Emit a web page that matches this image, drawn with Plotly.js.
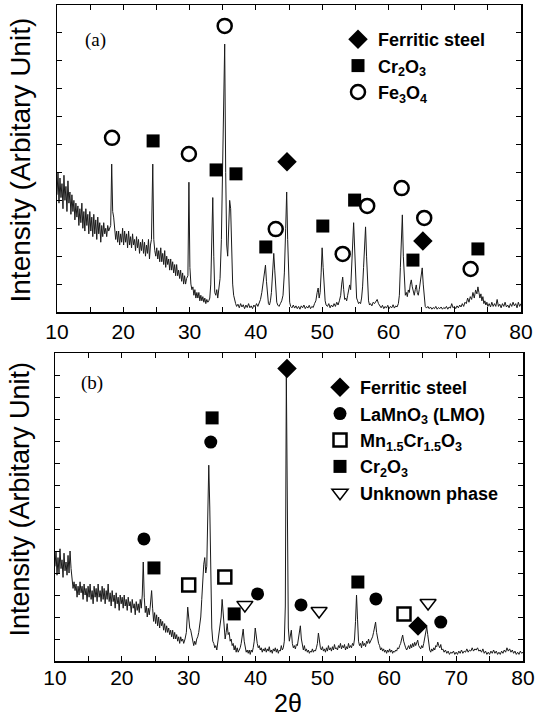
<!DOCTYPE html>
<html>
<head>
<meta charset="utf-8">
<script src="https://cdn.plot.ly/plotly-3.0.1.min.js"></script>
<style>html,body{margin:0;padding:0;background:#fff;}#chart{width:536px;height:725px;}</style>
</head>
<body>
<div id="chart"></div>
<script>
// ---------- Panel (a) scan: [2theta, intensity] ----------
const scanA = [
[10.0,4.2],[10.15,5.0],[10.3,3.9],[10.45,4.8],[10.6,4.1],[10.75,4.6],[10.9,3.7],[11.05,4.9],[11.2,4.0],[11.35,4.5],
[11.5,3.6],[11.65,4.7],[11.8,3.9],[11.95,4.3],[12.1,3.5],[12.25,4.2],[12.4,3.6],[12.55,4.0],[12.7,3.3],[12.85,3.9],
[13.0,3.4],[13.15,3.8],[13.3,3.1],[13.45,3.7],[13.6,3.2],[13.75,3.9],[13.9,3.0],[14.05,3.6],[14.2,2.9],[14.35,3.7],
[14.5,3.1],[14.65,3.5],[14.8,2.8],[14.95,3.6],[15.1,2.9],[15.25,3.4],[15.4,2.7],[15.55,3.5],[15.7,2.8],[15.85,3.3],
[16.0,2.6],[16.15,3.4],[16.3,2.8],[16.45,3.2],[16.6,2.5],[16.75,3.1],[16.9,2.7],[17.05,3.2],[17.2,2.8],[17.35,3.0],
[17.5,2.7],[17.65,3.1],[17.8,2.9],[17.95,3.0],[18.1,3.1],[18.25,5.3],[18.4,3.6],[18.55,3.4],[18.7,2.9],[18.85,2.6],
[19.0,2.9],[19.15,2.5],[19.3,2.9],[19.45,2.4],[19.6,2.8],[19.75,2.5],[19.9,3.0],[20.05,2.4],[20.2,2.9],[20.35,2.5],
[20.5,2.8],[20.65,2.3],[20.8,2.9],[20.95,2.4],[21.1,2.7],[21.25,2.3],[21.4,2.8],[21.55,2.4],[21.7,2.6],[21.85,2.2],
[22.0,2.7],[22.15,2.3],[22.3,2.6],[22.45,2.1],[22.6,2.5],[22.75,2.2],[22.9,2.6],[23.05,2.1],[23.2,2.5],[23.35,2.0],
[23.5,2.4],[23.65,2.1],[23.8,2.6],[23.95,1.9],[24.1,2.4],[24.25,2.6],[24.45,5.3],[24.6,2.6],[24.75,2.2],[24.9,2.0],
[25.05,2.3],[25.2,1.9],[25.35,2.2],[25.5,1.8],[25.65,2.3],[25.8,1.8],[25.95,2.1],[26.1,1.7],[26.25,2.2],[26.4,1.6],
[26.55,2.0],[26.7,1.7],[26.85,1.9],[27.0,1.5],[27.15,1.9],[27.3,1.5],[27.45,1.8],[27.6,1.4],[27.75,1.7],[27.9,1.3],
[28.05,1.7],[28.2,1.3],[28.35,1.5],[28.5,1.2],[28.65,1.5],[28.8,1.1],[28.95,1.4],[29.1,1.0],[29.25,1.3],[29.4,1.0],
[29.55,1.2],[29.75,1.3],[29.9,4.65],[30.05,1.6],[30.2,1.0],[30.35,0.8],[30.5,0.9],[30.65,0.6],[30.8,0.8],[30.95,0.5],
[31.1,0.7],[31.25,0.5],[31.4,0.7],[31.55,0.4],[31.7,0.6],[31.85,0.4],[32.0,0.55],[32.15,0.35],[32.3,0.5],[32.45,0.3],
[32.6,0.45],[32.75,0.35],[32.9,0.4],[33.05,0.5],[33.2,1.0],[33.35,2.3],[33.5,4.1],[33.65,2.0],[33.8,0.7],[33.95,0.6],
[34.1,0.8],[34.25,0.5],[34.4,0.9],[34.6,1.2],[34.8,2.6],[35.0,5.5],[35.15,8.0],[35.3,9.6],[35.45,5.0],[35.6,2.4],
[35.75,2.0],[35.9,2.8],[36.05,4.0],[36.2,3.7],[36.35,2.0],[36.5,1.0],[36.65,0.6],[36.8,0.4],[36.95,0.3],[37.1,0.2],
[37.3,0.28],[37.5,0.15],[37.7,0.3],[37.9,0.18],[38.1,0.26],[38.3,0.12],[38.5,0.25],[38.7,0.16],[38.9,0.3],[39.1,0.15],
[39.3,0.22],[39.5,0.12],[39.7,0.25],[39.9,0.18],[40.1,0.3],[40.3,0.2],[40.5,0.35],[40.7,0.45],[40.9,0.7],[41.1,1.0],
[41.3,1.4],[41.45,1.68],[41.6,1.1],[41.75,0.5],[41.9,0.3],[42.05,0.25],[42.2,0.4],[42.35,0.7],[42.5,1.3],[42.7,2.1],
[42.85,1.5],[43.0,0.7],[43.15,0.35],[43.3,0.25],[43.5,0.2],[43.7,0.3],[43.9,0.4],[44.1,0.6],[44.3,1.4],[44.5,3.0],
[44.65,4.3],[44.8,2.6],[44.95,1.0],[45.1,0.35],[45.25,0.2],[45.45,0.15],[45.65,0.25],[45.85,0.14],[46.05,0.22],[46.25,0.12],
[46.45,0.2],[46.65,0.1],[46.85,0.22],[47.05,0.15],[47.25,0.25],[47.45,0.12],[47.65,0.2],[47.85,0.14],[48.05,0.24],[48.25,0.12],
[48.45,0.2],[48.65,0.16],[48.85,0.3],[49.05,0.4],[49.25,0.7],[49.4,0.86],[49.55,0.5],[49.7,0.7],[49.85,1.4],[50.0,2.3],
[50.15,1.6],[50.3,0.8],[50.45,0.4],[50.6,0.25],[50.8,0.2],[51.0,0.3],[51.2,0.15],[51.4,0.25],[51.6,0.18],[51.8,0.3],
[52.0,0.2],[52.2,0.35],[52.4,0.25],[52.6,0.4],[52.8,0.6],[52.95,1.0],[53.1,1.25],[53.25,0.8],[53.4,0.45],[53.55,0.5],
[53.7,0.4],[53.85,0.6],[54.0,0.8],[54.15,0.97],[54.3,0.8],[54.45,1.4],[54.6,2.4],[54.75,3.2],[54.9,2.2],[55.05,1.0],
[55.2,0.5],[55.35,0.4],[55.5,0.3],[55.65,0.35],[55.8,0.3],[55.95,0.5],[56.1,0.9],[56.25,1.6],[56.4,2.4],[56.55,3.05],
[56.7,2.0],[56.85,0.9],[57.0,0.4],[57.15,0.25],[57.3,0.3],[57.5,0.22],[57.7,0.35],[57.9,0.3],[58.1,0.4],[58.3,0.45],
[58.5,0.3],[58.7,0.22],[58.9,0.15],[59.1,0.24],[59.3,0.12],[59.5,0.2],[59.7,0.14],[59.9,0.24],[60.1,0.12],[60.3,0.2],
[60.5,0.15],[60.7,0.26],[60.9,0.14],[61.1,0.22],[61.3,0.18],[61.5,0.3],[61.65,0.6],[61.8,1.6],[61.95,2.8],[62.1,3.48],
[62.25,2.0],[62.4,1.0],[62.55,0.6],[62.7,0.7],[62.85,0.55],[63.0,0.79],[63.15,0.7],[63.3,1.0],[63.45,1.15],[63.6,0.9],
[63.75,0.75],[63.9,0.6],[64.05,0.8],[64.2,0.97],[64.35,0.7],[64.5,0.6],[64.65,0.8],[64.8,1.1],[64.95,1.4],[65.1,1.58],
[65.25,1.0],[65.4,0.5],[65.55,0.2],[65.75,0.14],[65.95,0.2],[66.15,0.12],[66.35,0.18],[66.55,0.1],[66.75,0.16],[66.95,0.12],
[67.15,0.2],[67.35,0.1],[67.55,0.16],[67.75,0.12],[67.95,0.18],[68.15,0.1],[68.35,0.16],[68.55,0.12],[68.75,0.2],[68.95,0.1],
[69.15,0.18],[69.35,0.14],[69.55,0.3],[69.75,0.15],[69.95,0.2],[70.15,0.12],[70.35,0.22],[70.55,0.15],[70.75,0.25],[70.95,0.18],
[71.15,0.3],[71.35,0.2],[71.55,0.35],[71.75,0.3],[71.95,0.5],[72.15,0.35],[72.35,0.55],[72.55,0.45],[72.75,0.7],[72.95,0.5],
[73.15,0.79],[73.35,0.65],[73.5,0.9],[73.65,0.7],[73.8,0.5],[73.95,0.65],[74.1,0.4],[74.25,0.55],[74.4,0.3],[74.55,0.4],
[74.7,0.25],[74.85,0.35],[75.0,0.2],[75.2,0.3],[75.4,0.18],[75.6,0.35],[75.8,0.2],[76.0,0.3],[76.2,0.2],[76.4,0.45],
[76.6,0.2],[76.8,0.28],[77.0,0.15],[77.2,0.3],[77.4,0.2],[77.6,0.35],[77.8,0.18],[78.0,0.25],[78.2,0.15],[78.4,0.3],
[78.6,0.2],[78.8,0.35],[79.0,0.22],[79.2,0.3],[79.4,0.15],[79.6,0.35],[79.8,0.2],[80.0,0.3]
];

// ---------- Panel (b) scan: [2theta, intensity] ----------
const scanB = [
[10.0,4.3],[10.15,5.0],[10.3,3.9],[10.45,4.7],[10.6,4.0],[10.75,5.1],[10.9,4.2],[11.05,4.6],[11.2,3.8],[11.35,4.9],
[11.5,4.1],[11.65,4.5],[11.8,3.9],[11.95,4.8],[12.1,4.0],[12.25,5.0],[12.4,4.2],[12.55,3.5],[12.7,3.3],[12.85,3.6],
[13.0,3.2],[13.15,3.5],[13.3,2.9],[13.45,3.4],[13.6,3.0],[13.75,3.6],[13.9,3.1],[14.05,3.4],[14.2,2.8],[14.35,3.5],
[14.5,3.0],[14.65,3.3],[14.8,2.7],[14.95,3.4],[15.1,2.9],[15.25,3.5],[15.4,2.8],[15.55,3.2],[15.7,2.6],[15.85,3.4],
[16.0,2.9],[16.15,3.3],[16.3,2.7],[16.45,3.5],[16.6,2.9],[16.75,3.2],[16.9,2.7],[17.05,3.4],[17.2,2.8],[17.35,3.3],
[17.5,2.6],[17.65,3.2],[17.8,2.8],[17.95,3.5],[18.1,2.7],[18.25,3.1],[18.4,2.5],[18.55,3.2],[18.7,2.7],[18.85,3.0],
[19.0,2.4],[19.15,3.1],[19.3,2.6],[19.45,2.9],[19.6,2.3],[19.75,3.0],[19.9,2.6],[20.05,2.9],[20.2,2.4],[20.35,3.0],
[20.5,2.5],[20.65,2.8],[20.8,2.3],[20.95,2.9],[21.1,2.5],[21.25,2.7],[21.4,2.2],[21.55,2.8],[21.7,2.4],[21.85,2.6],
[22.0,2.1],[22.15,2.7],[22.3,2.3],[22.45,2.6],[22.6,2.2],[22.75,2.8],[22.9,2.4],[23.05,3.0],[23.2,4.5],[23.35,2.9],
[23.5,2.2],[23.65,2.5],[23.8,2.0],[23.95,2.4],[24.1,2.1],[24.25,2.5],[24.45,3.2],[24.6,2.4],[24.75,1.8],[24.9,2.2],
[25.05,1.7],[25.2,2.1],[25.35,1.6],[25.5,2.0],[25.65,1.5],[25.8,1.9],[25.95,1.6],[26.1,1.8],[26.25,1.4],[26.4,1.7],
[26.55,1.3],[26.7,1.6],[26.85,1.3],[27.0,1.5],[27.15,1.2],[27.3,1.4],[27.45,1.1],[27.6,1.4],[27.75,1.0],[27.9,1.3],
[28.05,1.0],[28.2,1.2],[28.35,0.9],[28.5,1.1],[28.65,0.8],[28.8,1.1],[28.95,0.9],[29.1,1.0],[29.25,0.8],[29.45,1.0],
[29.65,1.3],[29.85,2.45],[30.0,1.8],[30.15,1.5],[30.3,1.4],[30.45,1.1],[30.6,0.9],[30.75,0.7],[30.9,0.9],[31.05,0.75],
[31.2,1.0],[31.35,1.1],[31.5,1.3],[31.65,1.6],[31.8,2.0],[31.95,2.8],[32.1,3.8],[32.25,4.4],[32.4,4.7],[32.55,4.0],
[32.7,4.3],[32.85,6.5],[33.0,8.9],[33.15,7.0],[33.3,3.0],[33.45,1.5],[33.6,0.9],[33.75,0.8],[33.9,0.6],[34.05,0.7],
[34.2,0.5],[34.35,0.8],[34.5,1.1],[34.7,1.5],[34.85,2.0],[35.0,2.8],[35.15,2.0],[35.3,1.2],[35.45,1.0],[35.6,1.3],
[35.75,1.7],[35.9,1.2],[36.05,1.3],[36.2,0.9],[36.35,1.0],[36.5,0.7],[36.65,0.8],[36.8,0.5],[36.95,0.7],[37.1,0.4],
[37.25,0.6],[37.4,0.4],[37.55,0.5],[37.7,0.6],[37.85,0.8],[38.0,1.1],[38.15,1.45],[38.3,0.9],[38.45,0.6],[38.6,0.4],
[38.75,0.5],[38.9,0.35],[39.05,0.5],[39.2,0.3],[39.35,0.5],[39.5,0.4],[39.65,0.6],[39.8,0.9],[39.95,1.5],[40.1,1.1],
[40.25,0.8],[40.4,0.6],[40.55,0.7],[40.7,0.5],[40.85,0.6],[41.0,0.4],[41.15,0.55],[41.3,0.45],[41.45,0.6],[41.6,0.4],
[41.75,0.55],[41.9,0.45],[42.05,0.65],[42.2,0.4],[42.35,0.5],[42.5,0.35],[42.65,0.55],[42.8,0.45],[42.95,0.6],[43.1,0.4],
[43.25,0.55],[43.4,0.35],[43.55,0.5],[43.7,0.45],[43.85,0.7],[44.0,0.5],[44.15,0.6],[44.3,0.9],[44.45,2.5],[44.6,13.0],
[44.75,6.0],[44.9,1.5],[45.05,0.9],[45.2,1.2],[45.35,1.4],[45.5,0.8],[45.65,0.6],[45.8,0.7],[45.95,0.55],[46.1,0.75],
[46.25,0.7],[46.4,1.0],[46.55,1.3],[46.7,1.6],[46.85,1.0],[47.0,0.6],[47.15,0.5],[47.3,0.7],[47.45,0.45],[47.6,0.55],
[47.75,0.4],[47.9,0.5],[48.05,0.35],[48.2,0.45],[48.35,0.4],[48.5,0.55],[48.65,0.4],[48.8,0.5],[48.95,0.45],[49.1,0.6],
[49.25,0.8],[49.4,1.27],[49.55,0.9],[49.7,0.6],[49.85,0.5],[50.0,0.65],[50.15,0.45],[50.3,0.55],[50.45,0.4],[50.6,0.6],
[50.75,0.45],[50.9,0.7],[51.05,0.5],[51.2,0.6],[51.35,0.45],[51.5,0.65],[51.65,0.5],[51.8,0.75],[51.95,0.55],[52.1,0.6],
[52.25,0.5],[52.4,0.7],[52.55,0.6],[52.7,0.8],[52.85,0.55],[53.0,0.7],[53.15,0.6],[53.3,0.75],[53.45,0.5],[53.6,0.65],
[53.75,0.55],[53.9,0.8],[54.05,0.6],[54.2,0.7],[54.35,0.6],[54.5,0.8],[54.65,0.7],[54.8,1.0],[54.95,1.8],[55.1,3.0],
[55.25,1.9],[55.4,0.9],[55.55,0.7],[55.7,0.8],[55.85,0.6],[56.0,0.9],[56.15,0.7],[56.3,0.8],[56.45,0.65],[56.6,0.9],
[56.75,0.8],[56.9,1.0],[57.05,0.8],[57.2,0.9],[57.35,1.0],[57.5,1.1],[57.65,1.3],[57.8,1.5],[57.95,1.77],[58.1,1.3],
[58.25,1.0],[58.4,0.8],[58.55,0.7],[58.7,0.5],[58.85,0.6],[59.0,0.45],[59.15,0.55],[59.3,0.4],[59.45,0.5],[59.6,0.35],
[59.75,0.5],[59.9,0.4],[60.05,0.55],[60.2,0.4],[60.35,0.5],[60.5,0.35],[60.65,0.45],[60.8,0.4],[60.95,0.5],[61.1,0.45],
[61.25,0.6],[61.4,0.55],[61.55,0.7],[61.7,0.8],[61.85,1.0],[62.0,1.18],[62.15,0.9],[62.3,0.7],[62.45,0.6],[62.6,0.5],
[62.75,0.6],[62.9,0.7],[63.05,0.55],[63.2,0.75],[63.35,0.6],[63.5,0.8],[63.65,0.65],[63.8,0.85],[63.95,0.7],[64.1,0.8],
[64.25,0.95],[64.4,0.7],[64.55,0.6],[64.7,0.55],[64.85,0.7],[65.0,0.6],[65.15,0.8],[65.3,1.0],[65.45,1.3],[65.6,1.55],
[65.75,1.2],[65.9,0.7],[66.05,0.5],[66.2,0.4],[66.35,0.55],[66.5,0.45],[66.65,0.6],[66.8,0.5],[66.95,0.7],[67.1,0.65],
[67.25,0.86],[67.4,0.7],[67.55,0.6],[67.7,0.75],[67.85,0.5],[68.0,0.55],[68.2,0.4],[68.4,0.5],[68.6,0.35],[68.8,0.45],
[69.0,0.3],[69.2,0.4],[69.4,0.35],[69.6,0.45],[69.8,0.3],[70.0,0.4],[70.2,0.3],[70.4,0.45],[70.6,0.35],[70.8,0.5],
[71.0,0.35],[71.2,0.45],[71.4,0.4],[71.6,0.55],[71.8,0.4],[72.0,0.5],[72.2,0.45],[72.4,0.6],[72.6,0.45],[72.8,0.55],
[73.0,0.5],[73.2,0.6],[73.4,0.45],[73.6,0.5],[73.8,0.4],[74.0,0.55],[74.2,0.35],[74.4,0.45],[74.6,0.3],[74.8,0.4],
[75.0,0.3],[75.2,0.45],[75.4,0.35],[75.6,0.5],[75.8,0.35],[76.0,0.45],[76.2,0.3],[76.4,0.4],[76.6,0.3],[76.8,0.45],
[77.0,0.35],[77.2,0.5],[77.4,0.4],[77.6,0.6],[77.8,0.45],[78.0,0.55],[78.2,0.4],[78.4,0.5],[78.6,0.35],[78.8,0.45],
[79.0,0.3],[79.2,0.4],[79.4,0.3],[79.6,0.45],[79.8,0.35],[80.0,0.4]
];

// ---------- Phase marker positions, panel (a) ----------
const aSteelX = [44.7, 65.2];
const aSteelY = [5.38, 2.54];
const aCrX = [24.5, 34.0, 37.0, 41.5, 50.1, 54.9, 63.7, 73.5];
const aCrY = [6.13, 5.09, 4.95, 2.33, 3.08, 4.01, 1.86, 2.26];
const aFeX = [18.3, 29.9, 35.3, 43.0, 53.1, 56.8, 62.0, 65.4, 72.4];
const aFeY = [6.24, 5.66, 10.25, 2.97, 2.08, 3.80, 4.44, 3.37, 1.54];

// ---------- Phase marker positions, panel (b) ----------
const bSteelX = [44.7, 64.3];
const bSteelY = [13.3, 1.59];
const bLmoX = [23.3, 33.3, 40.3, 46.8, 58.0, 67.7];
const bLmoY = [5.55, 9.95, 3.05, 2.55, 2.82, 1.77];
const bMcoX = [30.0, 35.4, 62.2];
const bMcoY = [3.45, 3.82, 2.14];
const bCrX = [24.8, 33.5, 36.8, 55.3];
const bCrY = [4.23, 11.05, 2.14, 3.59];
const bUnkX = [38.4, 49.5, 65.8];
const bUnkY = [2.55, 2.27, 2.64];

const namesA = ['Ferritic steel', 'Cr<sub>2</sub>O<sub>3</sub>', 'Fe<sub>3</sub>O<sub>4</sub>'];
const namesB = ['Ferritic steel', 'LaMnO<sub>3</sub> (LMO)', 'Mn<sub>1.5</sub>Cr<sub>1.5</sub>O<sub>3</sub>', 'Cr<sub>2</sub>O<sub>3</sub>', 'Unknown phase'];

// ---------- geometry helpers (pixel -> paper) ----------
const W = 536, H = 725, ML = 55, MR = 13, MT = 5, MB = 64;
const PW = W - ML - MR, PH = H - MT - MB;
const fx = p => (p - ML) / PW;
const fy = p => (H - MB - p) / PH;

const LINE = {color: '#1a1a1a', width: 1};
const traces = [
  {x: scanA.map(d => d[0]), y: scanA.map(d => d[1]), mode: 'lines', line: LINE, xaxis: 'x', yaxis: 'y', showlegend: false, hoverinfo: 'skip'},
  {x: aSteelX, y: aSteelY, mode: 'markers', name: namesA[0], xaxis: 'x', yaxis: 'y', legend: 'legend',
   marker: {symbol: 'diamond', size: 15, color: '#000'}},
  {x: aCrX, y: aCrY, mode: 'markers', name: namesA[1], xaxis: 'x', yaxis: 'y', legend: 'legend',
   marker: {symbol: 'square', size: 13, color: '#000'}},
  {x: aFeX, y: aFeY, mode: 'markers', name: namesA[2], xaxis: 'x', yaxis: 'y', legend: 'legend',
   marker: {symbol: 'circle-open', size: 14, color: '#000', line: {width: 2.5, color: '#000'}}},

  {x: scanB.map(d => d[0]), y: scanB.map(d => d[1]), mode: 'lines', line: LINE, xaxis: 'x2', yaxis: 'y2', showlegend: false, hoverinfo: 'skip'},
  {x: bSteelX, y: bSteelY, mode: 'markers', name: namesB[0], xaxis: 'x2', yaxis: 'y2', legend: 'legend2',
   marker: {symbol: 'diamond', size: 15, color: '#000'}},
  {x: bLmoX, y: bLmoY, mode: 'markers', name: namesB[1], xaxis: 'x2', yaxis: 'y2', legend: 'legend2',
   marker: {symbol: 'circle', size: 13, color: '#000'}},
  {x: bMcoX, y: bMcoY, mode: 'markers', name: namesB[2], xaxis: 'x2', yaxis: 'y2', legend: 'legend2',
   marker: {symbol: 'square-open', size: 13, color: '#000', line: {width: 2.5, color: '#000'}}},
  {x: bCrX, y: bCrY, mode: 'markers', name: namesB[3], xaxis: 'x2', yaxis: 'y2', legend: 'legend2',
   marker: {symbol: 'square', size: 13, color: '#000'}},
  {x: bUnkX, y: bUnkY, mode: 'markers', name: namesB[4], xaxis: 'x2', yaxis: 'y2', legend: 'legend2',
   marker: {symbol: 'triangle-down-open', size: 14, color: '#000', line: {width: 1.5, color: '#000'}}}
];

const tickFont = {family: 'Liberation Sans, Arial, sans-serif', size: 21, color: '#000'};
const xBase = {
  range: [10, 80], dtick: 10, tick0: 10,
  ticks: 'inside', ticklen: 5, tickwidth: 1, tickcolor: '#000',
  minor: {dtick: 5, tick0: 10, ticks: 'inside', ticklen: 5, tickwidth: 1, tickcolor: '#000', showgrid: false},
  showline: true, linewidth: 1.5, linecolor: '#000', mirror: 'ticks',
  showgrid: false, zeroline: false, tickfont: tickFont
};
const yBase = {
  dtick: 1, ticks: 'inside', ticklen: 5, tickwidth: 1, tickcolor: '#000',
  showline: true, linewidth: 1.5, linecolor: '#000', mirror: 'ticks',
  showgrid: false, zeroline: false, showticklabels: false
};
const legFont = {family: 'Liberation Sans, Arial, sans-serif', size: 18, color: '#000', weight: 'bold'};

const layout = {
  width: W, height: H,
  margin: {l: ML, r: MR, t: MT, b: MB},
  paper_bgcolor: '#fff', plot_bgcolor: '#fff',
  xaxis: Object.assign({}, xBase, {domain: [fx(57), fx(521)], anchor: 'y'}),
  yaxis: Object.assign({}, yBase, {domain: [fy(312), fy(5)], range: [0, 11], anchor: 'x'}),
  xaxis2: Object.assign({}, xBase, {domain: [0, 1], anchor: 'y2', ticklabelstandoff: -3}),
  yaxis2: Object.assign({}, yBase, {domain: [fy(661), fy(353)], range: [0, 14], anchor: 'x2'}),
  legend: {x: fx(338), y: fy(21), xanchor: 'left', yanchor: 'top', bgcolor: 'rgba(0,0,0,0)', font: legFont, itemsizing: 'trace'},
  legend2: {x: fx(320), y: fy(369), xanchor: 'left', yanchor: 'top', bgcolor: 'rgba(0,0,0,0)', font: legFont, itemsizing: 'trace'},
  annotations: [
    {text: '(a)', xref: 'paper', yref: 'paper', x: fx(95), y: fy(40), xanchor: 'center', yanchor: 'middle', showarrow: false,
     font: {family: 'Liberation Serif, Times New Roman, serif', size: 19, color: '#000'}},
    {text: '(b)', xref: 'paper', yref: 'paper', x: fx(92), y: fy(383), xanchor: 'center', yanchor: 'middle', showarrow: false,
     font: {family: 'Liberation Serif, Times New Roman, serif', size: 19, color: '#000'}},
    {text: 'Intensity (Arbitary Unit)', xref: 'paper', yref: 'paper', x: fx(19.5), y: fy(160), xanchor: 'center', yanchor: 'middle',
     textangle: -90, showarrow: false, font: {family: 'Liberation Sans, Arial, sans-serif', size: 28, color: '#000'}},
    {text: 'Intensity (Arbitary Unit)', xref: 'paper', yref: 'paper', x: fx(19.5), y: fy(499), xanchor: 'center', yanchor: 'middle',
     textangle: -90, showarrow: false, font: {family: 'Liberation Sans, Arial, sans-serif', size: 27, color: '#000'}},
    {text: '2θ', xref: 'paper', yref: 'paper', x: fx(288), y: fy(703), xanchor: 'center', yanchor: 'middle', showarrow: false,
     font: {family: 'Liberation Sans, Arial, sans-serif', size: 25, color: '#000'}}
  ]
};

Plotly.newPlot('chart', traces, layout, {staticPlot: true, displayModeBar: false});
</script>
</body>
</html>
